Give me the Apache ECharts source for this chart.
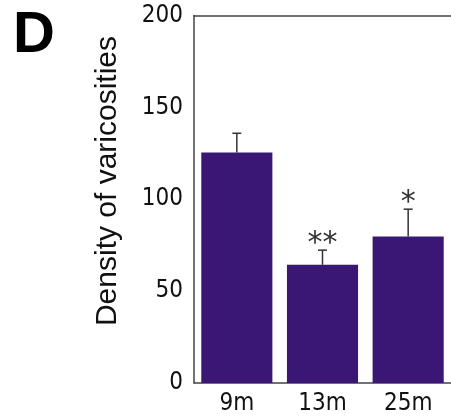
<!DOCTYPE html>
<html>
<head>
<meta charset="utf-8">
<script src="https://cdn.jsdelivr.net/npm/echarts@6/dist/echarts.min.js"></script>
<style>
  html, body { margin: 0; padding: 0; background: #fff; }
  #main { width: 451px; height: 416px; }
</style>
</head>
<body>
<div id="main"></div>
<script>
// data
const groups = ["9m", "13m", "25m"];
const density = [125.4, 64.3, 79.7];
const sem = [10.5, 8, 14.9];
const stars = ["", "**", "*"];
const yTicks = [0, 50, 100, 150, 200];

const barColor = "#3a1774";
const lineColor = "#444";
const tickFont = "'DejaVu Sans Condensed', sans-serif";

var chart = echarts.init(document.getElementById("main"));

var option = {
  animation: false,
  backgroundColor: "#fff",
  graphic: [
    {
      type: "text",
      left: 13,
      top: 7,
      style: {
        text: "D",
        font: "bold 58px 'Liberation Sans', Arial, sans-serif",
        fill: "#000",
      },
    },
    {
      // y axis title
      type: "text",
      x: 108,
      y: 181,
      rotation: Math.PI / 2,
      style: {
        text: "Density of varicosities",
        font: "30px 'Liberation Sans', Arial, sans-serif",
        fill: "#111",
        align: "center",
        verticalAlign: "middle",
      },
    },
  ],
  grid: {
    left: 194,
    right: -4,
    top: 15.5,
    bottom: 32.3,
  },
  xAxis: [
    {
      type: "category",
      data: groups,
      axisLine: { lineStyle: { color: lineColor, width: 1.5 } },
      axisTick: { show: false },
      axisLabel: {
        color: "#111",
        fontFamily: tickFont,
        fontSize: 24,
        margin: 9,
      },
    },
    {
      // top frame line at 200
      type: "category",
      data: groups,
      position: "top",
      axisLine: { show: true, lineStyle: { color: lineColor, width: 1.5 } },
      axisTick: { show: false },
      axisLabel: { show: false },
    },
  ],
  yAxis: {
    type: "value",
    min: yTicks[0],
    max: yTicks[yTicks.length - 1],
    interval: 50,
    axisLine: { show: true, lineStyle: { color: lineColor, width: 1.5 } },
    axisTick: { show: false },
    splitLine: { show: false },
    axisLabel: {
      color: "#111",
      fontFamily: tickFont,
      fontSize: 24,
      margin: 11,
      padding: [6, 0, 0, 0],
    },
  },
  series: [
    {
      type: "bar",
      data: density,
      barWidth: "83%",
      itemStyle: { color: barColor },
      z: 2,
    },
    {
      type: "custom",
      data: density.map(function (v, i) {
        return [i, v, v + sem[i], stars[i]];
      }),
      encode: { x: 0, y: [1, 2] },
      z: 3,
      renderItem: function (params, api) {
        var lo = api.coord([api.value(0), api.value(1)]);
        var hi = api.coord([api.value(0), api.value(2)]);
        var cap = 4.5;
        var children = [
          {
            type: "line",
            shape: { x1: lo[0], y1: lo[1], x2: hi[0], y2: hi[1] },
            style: { stroke: "#333", lineWidth: 1.5 },
          },
          {
            type: "line",
            shape: { x1: hi[0] - cap, y1: hi[1], x2: hi[0] + cap, y2: hi[1] },
            style: { stroke: "#333", lineWidth: 1.5 },
          },
        ];
        var s = stars[params.dataIndex];
        if (s) {
          children.push({
            type: "text",
            x: hi[0],
            y: hi[1] + 9,
            style: {
              text: s,
              font: "30px 'DejaVu Sans', sans-serif",
              fill: "#333",
              align: "center",
              verticalAlign: "bottom",
            },
          });
        }
        return { type: "group", children: children };
      },
    },
  ],
};

chart.setOption(option);
</script>
</body>
</html>
